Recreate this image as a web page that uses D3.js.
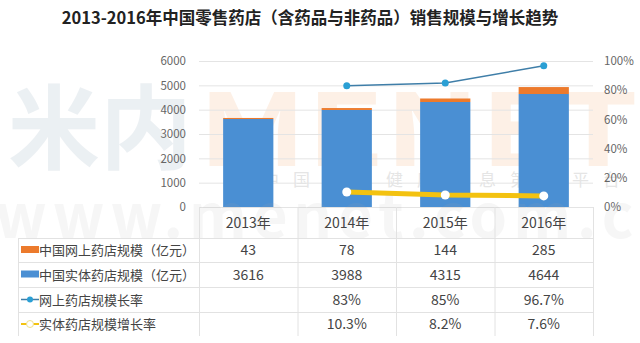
<!DOCTYPE html>
<html><head><meta charset="utf-8">
<script src="https://cdn.jsdelivr.net/npm/d3@7"></script>
<style>body{margin:0;background:#fff}svg{display:block}text{font-family:"Noto Sans CJK SC","Noto Sans",sans-serif}</style>
</head><body>
<svg id="c" width="640" height="343"></svg>
<script>
const title = "2013-2016年中国零售药店（含药品与非药品）销售规模与增长趋势";
const years = ["2013年","2014年","2015年","2016年"];
const onlineScale = [43,78,144,285];
const physicalScale = [3616,3988,4315,4644];
const onlineGrowth = [null,0.83,0.85,0.967];
const physicalGrowth = [null,0.103,0.082,0.076];
const onlineGrowthLabels = ["","83%","85%","96.7%"];
const physicalGrowthLabels = ["","10.3%","8.2%","7.6%"];
const seriesNames = ["中国网上药店规模（亿元）","中国实体药店规模（亿元）","网上药店规模长率","实体药店规模增长率"];
const leftTicks = [0,1000,2000,3000,4000,5000,6000];
const rightTicks = [0,0.2,0.4,0.6,0.8,1.0];

const svg = d3.select("#c");
const plotL=199, plotR=593, plotT=61, plotB=207;
const cBlue="#4a8fd3", cOrange="#ec7a2c", cLine="#2a9fd4", cLineStroke="#3f7ea8", cYellow="#f3c210";

const x = d3.scaleBand().domain(years).range([plotL,plotR]).paddingInner(0.49).paddingOuter(0.245);
const y = d3.scaleLinear().domain([0,6000]).range([plotB,plotT]);
const y2 = d3.scaleLinear().domain([0,1]).range([plotB,plotT]);
const cx = d => x(d)+x.bandwidth()/2;

// watermark (faint, as in the source image)
const wm = svg.append("g").attr("pointer-events","none");
wm.append("text").attr("x",8).attr("y",162).attr("font-size",92).attr("font-weight","bold")
  .attr("fill","#a9bccb").attr("opacity",0.22).text("米内");
wm.append("text").attr("x",198).attr("y",166).attr("font-size",100).attr("font-weight","bold")
  .attr("font-family","DejaVu Sans").attr("textLength",440).attr("lengthAdjust","spacingAndGlyphs")
  .attr("fill","#f7b784").attr("opacity",0.2).text("MENET");
wm.append("text").attr("x",262).attr("y",186).attr("font-size",17).attr("fill","#999")
  .attr("opacity",0.25).attr("letter-spacing","14px").text("中国医药健康信息第一平台");

// gridlines
svg.append("g").selectAll("line").data(leftTicks).join("line")
  .attr("x1",plotL).attr("x2",plotR).attr("y1",d=>y(d)+0.5).attr("y2",d=>y(d)+0.5)
  .attr("stroke","#e4e4e4");

// left axis
const ya = d3.axisLeft(y).tickValues(leftTicks).tickSize(0).tickPadding(0).tickFormat(d3.format("d"));
const gL = svg.append("g").attr("transform",`translate(186,0)`).call(ya);
gL.select(".domain").remove();
gL.selectAll("text").attr("font-size",11.5).attr("fill","#666").attr("font-family","Liberation Sans, sans-serif");
// right axis
const ya2 = d3.axisRight(y2).tickValues(rightTicks).tickSize(0).tickPadding(0).tickFormat(d3.format(".0%"));
const gR = svg.append("g").attr("transform",`translate(604,0)`).call(ya2);
gR.select(".domain").remove();
gR.selectAll("text").attr("font-size",11.5).attr("fill","#666").attr("font-family","Liberation Sans, sans-serif");

// bars
svg.append("g").selectAll("rect").data(years).join("rect")
  .attr("x",d=>x(d)).attr("width",x.bandwidth())
  .attr("y",(d,i)=>y(physicalScale[i])).attr("height",(d,i)=>y(0)-y(physicalScale[i]))
  .attr("fill",cBlue);
svg.append("g").selectAll("rect").data(years).join("rect")
  .attr("x",d=>x(d)).attr("width",x.bandwidth())
  .attr("y",(d,i)=>y(physicalScale[i]+onlineScale[i])).attr("height",(d,i)=>y(physicalScale[i])-y(physicalScale[i]+onlineScale[i]))
  .attr("fill",cOrange);

// lines
const og = years.map((d,i)=>({d,v:onlineGrowth[i]})).filter(p=>p.v!=null);
const pg = years.map((d,i)=>({d,v:physicalGrowth[i]})).filter(p=>p.v!=null);
const line = d3.line().x(p=>cx(p.d)).y(p=>y2(p.v));
svg.append("path").datum(og).attr("d",line).attr("fill","none").attr("stroke",cLineStroke).attr("stroke-width",1.5);
svg.append("g").selectAll("circle").data(og).join("circle").attr("cx",p=>cx(p.d)).attr("cy",p=>y2(p.v)).attr("r",3.5).attr("fill",cLine);
svg.append("path").datum(pg).attr("d",line).attr("fill","none").attr("stroke",cYellow).attr("stroke-width",5);
svg.append("g").selectAll("circle").data(pg).join("circle").attr("cx",p=>cx(p.d)).attr("cy",p=>y2(p.v)).attr("r",4.5).attr("fill","#fff");

// faint url watermark
svg.append("text").attr("x",-5).attr("y",238).attr("font-size",60).attr("font-weight","bold")
  .attr("font-family","DejaVu Sans").attr("fill","#aaa").attr("opacity",0.1).attr("letter-spacing","6px").text("www.menet.com.cn");

// title
svg.append("text").attr("x",310).attr("y",24).attr("text-anchor","middle").attr("font-size",16.5)
  .attr("font-weight","bold").attr("fill","#222").text(title);

// table
const rowsY = [238,262,287,312,336];
const tableL = 18;
const colEdges = [tableL].concat(years.map(d=>cx(d)-x.step()/2)).concat([cx(years[3])+x.step()/2]);
const grid = svg.append("g").attr("stroke","#e2e2e2").attr("stroke-width",1);
rowsY.slice(0,4).forEach(yy=>grid.append("line").attr("x1",tableL).attr("x2",colEdges[5]).attr("y1",yy+0.5).attr("y2",yy+0.5));
colEdges.forEach((xx,i)=>grid.append("line").attr("x1",xx+0.5).attr("x2",xx+0.5).attr("y1",i===0?238:207).attr("y2",rowsY[4]));

svg.append("g").selectAll("text").data(years).join("text")
  .attr("x",d=>cx(d)).attr("y",228).attr("text-anchor","middle").attr("font-size",14).attr("fill","#444").text(d=>d);

const tableVals = [onlineScale.map(String), physicalScale.map(String), onlineGrowthLabels, physicalGrowthLabels];
tableVals.forEach((row,r)=>{
  const yy = (rowsY[r]+rowsY[r+1])/2+5;
  svg.append("g").selectAll("text").data(row).join("text")
    .attr("x",(d,i)=>cx(years[i])).attr("y",yy).attr("text-anchor","middle").attr("font-size",14)
    .attr("fill","#444").attr("font-family","Liberation Sans, sans-serif").text(d=>d);
  svg.append("text").attr("x",39).attr("y",yy).attr("font-size",13).attr("fill","#444").text(seriesNames[r]);
});
const ly = r => (rowsY[r]+rowsY[r+1])/2;
svg.append("rect").attr("x",21).attr("y",ly(0)-4).attr("width",18).attr("height",7).attr("fill",cOrange);
svg.append("rect").attr("x",21).attr("y",ly(1)-4).attr("width",18).attr("height",7).attr("fill",cBlue);
svg.append("line").attr("x1",21).attr("x2",39).attr("y1",ly(2)).attr("y2",ly(2)).attr("stroke",cLineStroke).attr("stroke-width",1.5);
svg.append("circle").attr("cx",30).attr("cy",ly(2)).attr("r",3).attr("fill",cLine);
svg.append("line").attr("x1",21).attr("x2",39).attr("y1",ly(3)).attr("y2",ly(3)).attr("stroke",cYellow).attr("stroke-width",2);
svg.append("circle").attr("cx",30).attr("cy",ly(3)).attr("r",3.5).attr("fill","#fff").attr("stroke","#f0e08a").attr("stroke-width",1);
</script>
</body></html>
